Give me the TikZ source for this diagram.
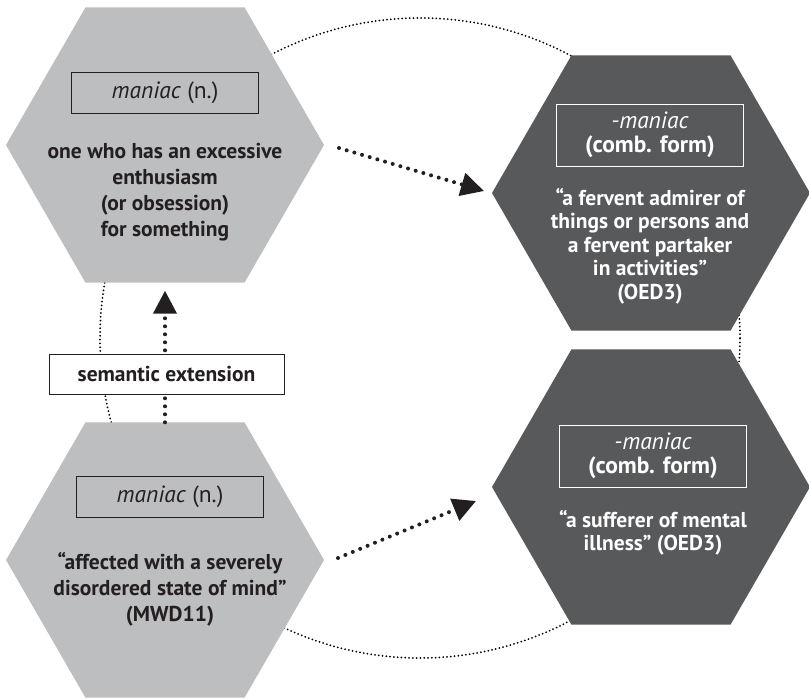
\documentclass[tikz,border=0pt]{standalone}
\usepackage{fontspec}
\setmainfont{PT Sans}
\usetikzlibrary{shapes.geometric,arrows.meta,calc}
\definecolor{hexlight}{HTML}{BCBEC0}
\definecolor{hexdark}{HTML}{58595B}
\definecolor{ink}{HTML}{231F20}
\begin{document}
\begin{tikzpicture}[x=1pt,y=-1pt,
  hex/.style={regular polygon, regular polygon sides=6, minimum size=318pt,
    inner sep=0pt, outer sep=0pt, draw=none},
  lighthex/.style={hex, fill=hexlight},
  darkhex/.style={hex, fill=hexdark},
  headbox/.style={line width=0.7pt, minimum width=187pt, inner sep=3pt,
    align=center, font=\fontsize{23.5}{24.5}\selectfont},
  lighthead/.style={headbox, draw=ink, text=ink, minimum height=41pt},
  darkhead/.style={headbox, draw=white, text=white, minimum height=62pt},
  bodytext/.style={align=center, font=\fontsize{21.5}{26}\selectfont\bfseries},
  lightbody/.style={bodytext, text=ink},
  darkbody/.style={bodytext, text=white, font=\fontsize{21.5}{23.5}\selectfont\bfseries},
  ring/.style={draw=black, line width=2pt, dash pattern=on 0pt off 3.8pt, line cap=round},
  flow/.style={draw=ink, line width=4pt, dash pattern=on 0pt off 8pt, line cap=round,
    -{Triangle[length=23pt,width=23pt,fill=ink]}},
  tagbox/.style={draw=ink, fill=white, line width=0.8pt, minimum width=235pt,
    minimum height=40pt, text=ink, font=\fontsize{21.5}{24}\selectfont\bfseries}
]
\useasboundingbox (0,0) rectangle (809,699);

% the ring connecting the four senses
\draw[ring] (420,338) circle [radius=320pt];

% hexagons
\node[lighthex] (tl) at (165,145) {};
\node[lighthex] (bl) at (165,560) {};
\node[darkhex]  (tr) at (651,193) {};
\node[darkhex]  (br) at (651,487) {};

% top left: the extended sense
\node[lighthead] (tlhead) at (165,93) {\textit{maniac} (n.)};
\node[lightbody] (tlbody) at (165,192) {one who has an excessive\\enthusiasm\\(or obsession)\\for something};

% bottom left: the original sense
\node[lighthead] (blhead) at (170,497) {\textit{maniac} (n.)};
\node[lightbody] (blbody) at (170,589) {“affected with a severely\\disordered state of mind”\\(MWD11)};

% top right: combining form, enthusiast
\node[darkhead] (trhead) at (650,135) {\textit{-maniac}\\\textbf{(comb. form)}};
\node[darkbody] (trbody) at (650,246) {“a fervent admirer of\\things or persons and\\a fervent partaker\\in activities”\\(OED3)};

% bottom right: combining form, mental illness
\node[darkhead] (brhead) at (653,456) {\textit{-maniac}\\\textbf{(comb. form)}};
\node[darkbody] (brbody) at (653,533) {“a sufferer of mental\\illness” (OED3)};

% derivation arrows
\draw[flow] ($(tl.east)+(15,3)$) -- ($(tr.west)+(-8,-2)$);
\draw[flow] ($(bl.east)+(14,-2)$) -- ($(br.west)+(-16,14)$);
\draw[flow] (bl.north) -- ($(tl.south)+(0,8)$);

% label on the vertical arrow
\node[tagbox] (ext) at (166.5,374) {semantic extension};
\end{tikzpicture}
\end{document}
